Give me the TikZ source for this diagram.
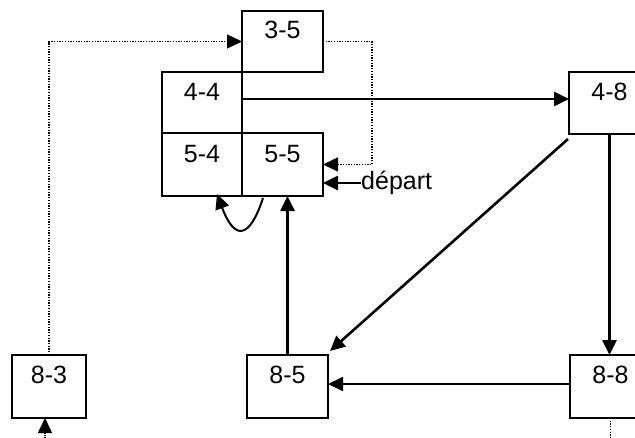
\documentclass[tikz,border=0pt]{standalone}
\usepackage{fontspec}
\setmainfont{Liberation Sans}
\usetikzlibrary{arrows.meta,calc}
\begin{document}
\begin{tikzpicture}[x=1pt,y=-1pt,
  box/.style={draw, line width=2pt, inner sep=0pt, outer sep=0pt, anchor=north west},
  lbl/.style={anchor=base, inner sep=0pt, font=\fontsize{25}{30}\selectfont},
  tip/.style={-{Triangle[length=15pt,width=14pt]}},
  conn/.style={line width=2.6pt, tip},
  thinconn/.style={line width=2pt, tip},
  dotconn/.style={line width=1.5pt, dash pattern=on 1.3pt off 1.4pt, tip}]
\useasboundingbox (0,0) rectangle (635,437);
\clip (0,0) rectangle (635,437);
% boxes
\node[box, minimum width=81pt, minimum height=61pt] (b35) at (242,11) {};
\node[box, minimum width=80pt, minimum height=61pt] (b44) at (162,72) {};
\node[box, minimum width=80pt, minimum height=63pt] (b54) at (162,133) {};
\node[box, minimum width=81pt, minimum height=63pt] (b55) at (242,133) {};
\node[box, minimum width=81pt, minimum height=62pt] (b48) at (569,72) {};
\node[box, minimum width=74pt, minimum height=63pt] (b83) at (12,355) {};
\node[box, minimum width=81pt, minimum height=63pt] (b85) at (247,355) {};
\node[box, minimum width=81pt, minimum height=63pt] (b88) at (570,355) {};
% labels
\node[lbl] (t35) at ([yshift=-27pt]b35.north) {3-5};
\node[lbl] (t44) at ([yshift=-28pt]b44.north) {4-4};
\node[lbl] (t54) at ([yshift=-29pt]b54.north) {5-4};
\node[lbl] (t55) at ([yshift=-29pt]b55.north) {5-5};
\node[lbl] (t48) at ([yshift=-28pt]b48.north) {4-8};
\node[lbl] (t83) at ([yshift=-28pt]b83.north) {8-3};
\node[lbl] (t85) at ([yshift=-28pt]b85.north) {8-5};
\node[lbl] (t88) at ([yshift=-28pt]b88.north) {8-8};
\node[anchor=west, inner sep=0pt, font=\fontsize{25}{30}\selectfont] (dep) at (361,183) {départ};
% connectors
\draw[conn] ([yshift=3.5pt]b44.east) -- ([yshift=3.5pt]b44.east -| b48.west);
\draw[dotconn] (b35.east) -- ++(49,0) |- (b55.east);
\draw[conn] (dep.west) -- (dep.west -| b55.east);
\draw[dotconn] (b83.north) |- (b35.west);
\draw[conn] ([shift={(-1,5)}]b48.south west) -- ([shift={(2,-4)}]b85.north east);
\draw[conn] (b48.south) -- (b48.south |- b88.north);
\draw[thinconn] ([yshift=2.5pt]b88.west) -- ([yshift=2.5pt]b88.west -| b85.east);
\draw[conn] (b85.north) -- (b85.north |- b55.south);
\draw[line width=2pt, tip] ([shift={(-19.5,2)}]b55.south) .. controls +(-13,40) and +(18,48) .. ([shift={(15,-2)}]b54.south);
\draw[dotconn] (b88.south) -- ++(0,20.5) -| ([shift={(-4,0)}]b83.south);
\end{tikzpicture}
\end{document}
